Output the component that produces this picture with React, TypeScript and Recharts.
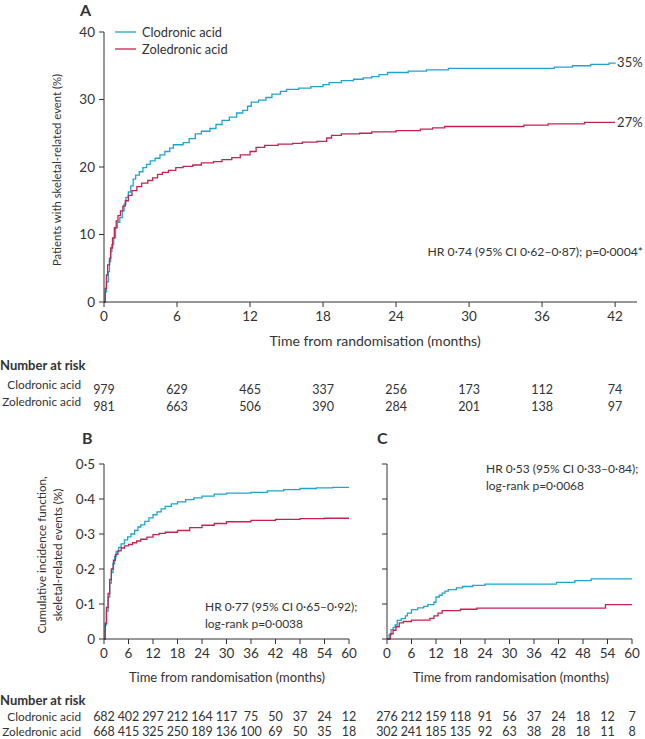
import React from 'react'
import { LineChart, Line, XAxis, YAxis } from 'recharts'

const CLOD = '#1fa4cf'
const ZOL = '#c2244f'
const INK = '#333333'
const FONT = 'Lato, "Open Sans", sans-serif'

// ---- panel A: Kaplan-Meier, % with skeletal-related event ----
const aMonthTicks = [0, 6, 12, 18, 24, 30, 36, 42]
const aPctTicks = [0, 10, 20, 30, 40]
const aClodronic = [
  [0, 0], [0.1, 1.5], [0.2, 3], [0.35, 4.5], [0.45, 6], [0.55, 7.5], [0.65, 8.5], [0.8, 9.5],
  [0.95, 11], [1.1, 11.8], [1.3, 12.5], [1.5, 13.5], [1.65, 14.5], [1.8, 15.5], [2.0, 16.3],
  [2.2, 17.2], [2.4, 18.2], [2.6, 18.8], [2.9, 19.3], [3.2, 19.9], [3.5, 20.4], [3.8, 20.9],
  [4.2, 21.3], [4.6, 21.8], [5.0, 22.3], [5.4, 22.8], [5.7, 23.3], [6.5, 23.6], [7.0, 24.2],
  [7.5, 24.9], [8.0, 25.3], [8.7, 25.7], [9.2, 26.3], [9.7, 26.9], [10.3, 27.4], [10.9, 28.0],
  [11.4, 28.4], [11.8, 29.0], [12.1, 29.6], [12.7, 29.9], [13.3, 30.3], [13.8, 30.8], [14.5, 31.2],
  [15.0, 31.5], [16.0, 31.7], [17.0, 31.9], [18.0, 32.2], [18.5, 32.5], [19.5, 32.8], [20.5, 33.0],
  [21.3, 33.2], [22.0, 33.4], [22.6, 33.7], [23.3, 34.0], [25.0, 34.2], [26.5, 34.4], [28.3, 34.6],
  [37.0, 34.8], [38.5, 35.0], [40.0, 35.2], [41.5, 35.4], [42.0, 35.5],
]
const aZoledronic = [
  [0, 0], [0.1, 2], [0.2, 4], [0.3, 5.5], [0.45, 6.5], [0.55, 8], [0.7, 9.5], [0.85, 11],
  [1.0, 12], [1.15, 12.8], [1.35, 13.5], [1.55, 14.2], [1.75, 15], [2.0, 15.8], [2.3, 16.5],
  [2.7, 17.1], [3.1, 17.6], [3.6, 18], [4.0, 18.4], [4.4, 18.9], [4.8, 19.2], [5.3, 19.5],
  [5.9, 19.9], [6.5, 20.1], [7.3, 20.3], [8.0, 20.6], [9.0, 20.8], [9.7, 21.1], [10.5, 21.4],
  [11.2, 21.8], [12.0, 22.3], [12.5, 22.9], [13.2, 23.2], [14.3, 23.4], [15.5, 23.5], [16.3, 23.7],
  [17.5, 23.8], [18.3, 24.3], [18.7, 24.7], [19.5, 24.9], [21.0, 25.0], [22.0, 25.2], [24.0, 25.4],
  [26.0, 25.6], [27.0, 25.8], [28.0, 26.0], [34.5, 26.2], [36.5, 26.4], [39.5, 26.6], [42.0, 26.6],
]
const aRiskClodronic = [979, 629, 465, 337, 256, 173, 112, 74]
const aRiskZoledronic = [981, 663, 506, 390, 284, 201, 138, 97]

// ---- panels B and C: cumulative incidence ----
const bcMonthTicks = [0, 6, 12, 18, 24, 30, 36, 42, 48, 54, 60]
const bcCifTicks = [0, 0.1, 0.2, 0.3, 0.4, 0.5]
const bClodronic = [
  [0, 0], [0.3, 0.04], [0.6, 0.08], [1.0, 0.12], [1.4, 0.16], [1.8, 0.19], [2.2, 0.215],
  [2.6, 0.235], [3.0, 0.25], [3.6, 0.262], [4.2, 0.272], [5.0, 0.283], [5.8, 0.292], [6.6, 0.3],
  [7.5, 0.31], [8.3, 0.32], [9.0, 0.326], [10.0, 0.336], [11.0, 0.346], [12.0, 0.355], [13.0, 0.363],
  [14.0, 0.372], [15.0, 0.379], [16.5, 0.386], [18.0, 0.392], [20.0, 0.398], [22.0, 0.403],
  [24.0, 0.408], [27.0, 0.414], [30.0, 0.417], [36.0, 0.419], [40.0, 0.423], [44.0, 0.427],
  [48.0, 0.43], [52.0, 0.432], [56.0, 0.433], [60.0, 0.433],
]
const bZoledronic = [
  [0, 0], [0.3, 0.045], [0.6, 0.09], [1.0, 0.13], [1.4, 0.17], [1.8, 0.2], [2.3, 0.225],
  [2.8, 0.242], [3.4, 0.252], [4.2, 0.26], [5.0, 0.266], [6.0, 0.27], [7.0, 0.275], [8.0, 0.28],
  [9.0, 0.285], [10.5, 0.291], [12.0, 0.298], [13.5, 0.302], [15.0, 0.305], [18.0, 0.31],
  [21.0, 0.318], [24.0, 0.325], [27.0, 0.33], [30.0, 0.335], [36.0, 0.339], [42.0, 0.342],
  [48.0, 0.344], [54.0, 0.345], [60.0, 0.345],
]
const cClodronic = [
  [0, 0], [0.5, 0.012], [1.0, 0.027], [1.5, 0.033], [2.0, 0.04], [2.5, 0.053], [3.5, 0.058],
  [4.5, 0.066], [5.0, 0.074], [6.0, 0.084], [7.5, 0.089], [9.0, 0.093], [10.0, 0.098],
  [11.5, 0.105], [12.0, 0.12], [12.8, 0.125], [13.5, 0.131], [14.2, 0.137], [15.0, 0.141],
  [17.0, 0.146], [18.5, 0.15], [21.0, 0.153], [24.0, 0.157], [41.5, 0.162], [46.0, 0.167],
  [50.0, 0.172], [60.0, 0.172],
]
const cZoledronic = [
  [0, 0], [0.8, 0.015], [1.5, 0.025], [2.2, 0.035], [3.0, 0.046], [4.0, 0.05], [6.0, 0.054],
  [10.5, 0.059], [11.5, 0.066], [12.5, 0.074], [13.5, 0.081], [18.0, 0.085], [22.0, 0.088],
  [53.5, 0.098], [60.0, 0.098],
]
const bRiskClodronic = [682, 402, 297, 212, 164, 117, 75, 50, 37, 24, 12]
const bRiskZoledronic = [668, 415, 325, 250, 189, 136, 100, 69, 50, 35, 18]
const cRiskClodronic = [276, 212, 159, 118, 91, 56, 37, 24, 18, 12, 7]
const cRiskZoledronic = [302, 241, 185, 135, 92, 63, 38, 28, 18, 11, 8]

const toPts = (arr: number[][]) => arr.map(([t, v]) => ({ t, v }))
const dot = (v: number) => (v === 0 ? '0' : v.toFixed(1).replace('.', '\u00b7'))

const PAGE_W = 645
const PAGE_H = 739

// x tick that also prints the number-at-risk rows under each month
function riskTick(ticks: number[], rows: number[][], rowDy: number[]) {
  return (props: any) => {
    const { x, y, payload } = props
    const i = ticks.indexOf(payload.value)
    return (
      <g>
        <text x={x} y={y + 14} textAnchor="middle" fill={INK} fontSize={13.5} fontFamily={FONT}>
          {payload.value}
        </text>
        {rows.map((r, k) => (
          <text key={k} x={x} y={y + rowDy[k]} textAnchor="middle" fill={INK} fontSize={12.5} fontFamily={FONT}>
            {i >= 0 ? r[i] : ''}
          </text>
        ))}
      </g>
    )
  }
}

const endLabel = (text: string, n: number) => (p: any) =>
  p.index === n - 1 ? (
    <text x={p.x + 2} y={p.y + 5} fill={INK} fontSize={13} fontFamily={FONT}>{text}</text>
  ) : <g />

const axisStyle = { stroke: INK, strokeWidth: 1 }

export default function App() {
  const aC = toPts(aClodronic)
  const aZ = toPts(aZoledronic)
  const layer: React.CSSProperties = { position: 'absolute', left: 0, top: 0 }

  return (
    <div style={{ position: 'absolute', left: 0, top: 0, width: PAGE_W, height: PAGE_H, background: '#fff', fontFamily: FONT }}>
      {/* panel A */}
      <div style={layer}>
        <LineChart width={PAGE_W} height={PAGE_H} margin={{ top: 32, right: 8, left: 0, bottom: PAGE_H - 302 - 30 }}>
          <XAxis
            dataKey="t" type="number" domain={[0, 43.8]} ticks={aMonthTicks} height={30}
            axisLine={axisStyle} tickLine={axisStyle} tickSize={5} tickMargin={0}
            tick={riskTick(aMonthTicks, [aRiskClodronic, aRiskZoledronic], [87, 104])}
          />
          <YAxis
            dataKey="v" type="number" domain={[0, 40]} ticks={aPctTicks} width={104}
            axisLine={axisStyle} tickLine={axisStyle} tickSize={5} tickMargin={4}
            tick={{ fill: INK, fontSize: 13.5, fontFamily: FONT }}
          />
          <Line data={aC} dataKey="v" type="stepAfter" stroke={CLOD} strokeWidth={1.3} dot={false}
            isAnimationActive={false} label={endLabel('35%', aC.length)} />
          <Line data={aZ} dataKey="v" type="stepAfter" stroke={ZOL} strokeWidth={1.3} dot={false}
            isAnimationActive={false} label={endLabel('27%', aZ.length)} />
        </LineChart>
      </div>

      {/* panel B */}
      <div style={layer}>
        <LineChart width={PAGE_W} height={PAGE_H} margin={{ top: 464, right: PAGE_W - 349, left: 0, bottom: PAGE_H - 639 - 30 }}>
          <XAxis
            dataKey="t" type="number" domain={[0, 60]} ticks={bcMonthTicks} height={30}
            axisLine={axisStyle} tickLine={axisStyle} tickSize={5} tickMargin={0}
            tick={riskTick(bcMonthTicks, [bRiskClodronic, bRiskZoledronic], [77, 92])}
          />
          <YAxis
            dataKey="v" type="number" domain={[0, 0.5]} ticks={bcCifTicks} width={104}
            axisLine={axisStyle} tickLine={axisStyle} tickSize={5} tickMargin={4}
            tickFormatter={dot} tick={{ fill: INK, fontSize: 13.5, fontFamily: FONT }}
          />
          <Line data={toPts(bClodronic)} dataKey="v" type="stepAfter" stroke={CLOD} strokeWidth={1.3} dot={false} isAnimationActive={false} />
          <Line data={toPts(bZoledronic)} dataKey="v" type="stepAfter" stroke={ZOL} strokeWidth={1.3} dot={false} isAnimationActive={false} />
        </LineChart>
      </div>

      {/* panel C */}
      <div style={layer}>
        <LineChart width={PAGE_W} height={PAGE_H} margin={{ top: 464, right: PAGE_W - 632, left: 327, bottom: PAGE_H - 639 - 30 }}>
          <XAxis
            dataKey="t" type="number" domain={[0, 60]} ticks={bcMonthTicks} height={30}
            axisLine={axisStyle} tickLine={axisStyle} tickSize={5} tickMargin={0}
            tick={riskTick(bcMonthTicks, [cRiskClodronic, cRiskZoledronic], [77, 92])}
          />
          <YAxis
            dataKey="v" type="number" domain={[0, 0.5]} ticks={bcCifTicks} width={60}
            axisLine={axisStyle} tickLine={axisStyle} tickSize={5} tickMargin={4}
            tickFormatter={() => ''} tick={{ fill: INK, fontSize: 13 }}
          />
          <Line data={toPts(cClodronic)} dataKey="v" type="stepAfter" stroke={CLOD} strokeWidth={1.3} dot={false} isAnimationActive={false} />
          <Line data={toPts(cZoledronic)} dataKey="v" type="stepAfter" stroke={ZOL} strokeWidth={1.3} dot={false} isAnimationActive={false} />
        </LineChart>
      </div>

      {/* static text */}
      <svg width={PAGE_W} height={PAGE_H} style={{ ...layer, pointerEvents: 'none' }} fontFamily={FONT} fill={INK}>
        <text x={80} y={16} fontSize={16} fontWeight="bold">A</text>
        <text x={82} y={444} fontSize={16} fontWeight="bold">B</text>
        <text x={377} y={444} fontSize={16} fontWeight="bold">C</text>

        <line x1={115} x2={136} y1={32} y2={32} stroke={CLOD} strokeWidth={1.3} />
        <line x1={115} x2={136} y1={49} y2={49} stroke={ZOL} strokeWidth={1.3} />
        <text x={142} y={36.5} fontSize={12.8}>Clodronic acid</text>
        <text x={142} y={53.5} fontSize={12.8}>Zoledronic acid</text>

        <text transform="translate(61,170) rotate(-90)" textAnchor="middle" fontSize={11.3}>
          Patients with skeletal-related event (%)
        </text>
        <text x={643} y={256} textAnchor="end" fontSize={12.2}>HR 0·74 (95% CI 0·62–0·87); p=0·0004*</text>
        <text x={375} y={346} textAnchor="middle" fontSize={14}>Time from randomisation (months)</text>

        <text x={0} y={370} fontSize={13} fontWeight="bold">Number at risk</text>
        <text x={81} y={389} textAnchor="end" fontSize={11.8}>Clodronic acid</text>
        <text x={81} y={406} textAnchor="end" fontSize={11.8}>Zoledronic acid</text>

        <text transform="translate(46,555) rotate(-90)" textAnchor="middle" fontSize={11.6}>
          Cumulative incidence function,
        </text>
        <text transform="translate(62,555) rotate(-90)" textAnchor="middle" fontSize={11.6}>
          skeletal-related events (%)
        </text>
        <text x={205} y={611} fontSize={12}>HR 0·77 (95% CI 0·65–0·92);</text>
        <text x={205} y={628} fontSize={12}>log-rank p=0·0038</text>
        <text x={486} y={473} fontSize={12}>HR 0·53 (95% CI 0·33–0·84);</text>
        <text x={486} y={490} fontSize={12}>log-rank p=0·0068</text>
        <text x={227} y={682} textAnchor="middle" fontSize={13}>Time from randomisation (months)</text>
        <text x={511} y={682} textAnchor="middle" fontSize={13}>Time from randomisation (months)</text>

        <text x={0} y={705} fontSize={13} fontWeight="bold">Number at risk</text>
        <text x={81} y={721} textAnchor="end" fontSize={11.8}>Clodronic acid</text>
        <text x={81} y={736} textAnchor="end" fontSize={11.8}>Zoledronic acid</text>
      </svg>
    </div>
  )
}
